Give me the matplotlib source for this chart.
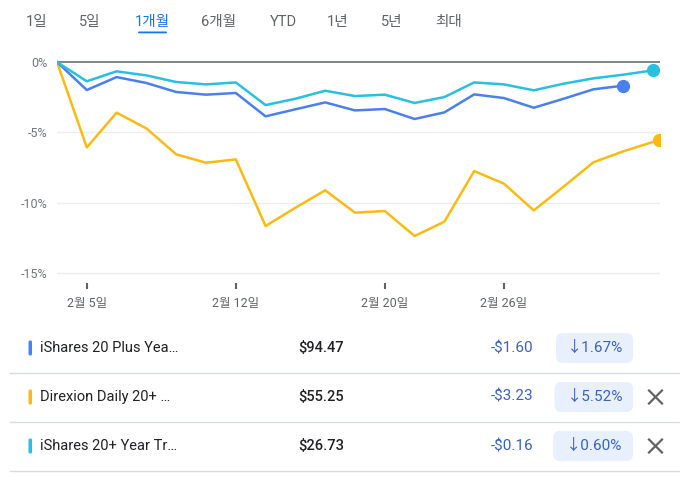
import matplotlib
matplotlib.use('Agg')
import matplotlib.pyplot as plt
from matplotlib.patches import FancyBboxPatch

plt.rcParams['font.family'] = ['Roboto', 'Noto Sans CJK KR', 'DejaVu Sans']

# trading days from Feb 2 to Mar 4 (index positions)
days = list(range(21))
tick_pos = [1, 6, 11, 15]
tick_labels = ['2월 5일', '2월 12일', '2월 20일', '2월 26일']

# percent change since start
tlt_pct = [0, -1.99, -1.07, -1.49, -2.13, -2.32, -2.20, -3.86, -3.36, -2.87,
           -3.44, -3.34, -4.05, -3.58, -2.30, -2.56, -3.25, -2.61, -1.94, -1.68]
tmf_pct = [0, -6.07, -3.60, -4.72, -6.56, -7.16, -6.92, -11.66, -10.36, -9.12,
           -10.71, -10.59, -12.37, -11.35, -7.75, -8.65, -10.55, -8.86, -7.13, -6.35, -5.55]
tmf_days = days[:-1] + [20.2]
tlh_pct = [0, -1.37, -0.66, -0.95, -1.42, -1.59, -1.45, -3.06, -2.61, -2.04,
           -2.42, -2.32, -2.91, -2.49, -1.45, -1.59, -2.01, -1.54, -1.16, -0.90, -0.59]

names = ['iShares 20 Plus Yea…', 'Direxion Daily 20+ …', 'iShares 20+ Year Tr…']
prices = ['$94.47', '$55.25', '$26.73']
changes = ['-$1.60', '-$3.23', '-$0.16']
change_pcts = ['↓1.67%', '↓5.52%', '↓0.60%']
row_colors = ['#4285F4', '#F9BB13', '#24C1E0']
removable = [False, True, True]

tabs = ['1일', '5일', '1개월', '6개월', 'YTD', '1년', '5년', '최대']
tab_x = [37, 90, 152, 219, 283, 338, 392, 449]

W, H = 682, 479
fig = plt.figure(figsize=(W / 100, H / 100), dpi=100)

# background overlay in pixel coords
bg = fig.add_axes([0, 0, 1, 1])
bg.set_xlim(0, W)
bg.set_ylim(H, 0)
bg.axis('off')

for t, x in zip(tabs, tab_x):
    active = t == '1개월'
    bg.text(x, 22, t, ha='center', va='center', fontsize=10.5,
            color='#1a73e8' if active else '#5f6368')
bg.add_patch(FancyBboxPatch((138, 31.5), 29, 1.8, boxstyle='round,pad=0,rounding_size=1',
                            fc='#1a73e8', ec='none'))

row_y = [348, 397, 446]
for i, y in enumerate(row_y):
    bg.add_patch(FancyBboxPatch((28.5, y - 7.5), 3.5, 15, boxstyle='round,pad=0,rounding_size=1.5',
                                fc=row_colors[i], ec='none'))
    bg.text(40, y, names[i], ha='left', va='center', fontsize=10.5, color='#202124')
    bg.text(298, y, prices[i], ha='left', va='center', fontsize=10.5, color='#202124',
            fontweight='medium')
    bg.text(533, y, changes[i], ha='right', va='center', fontsize=11, color='#3a60c0')
    left = 556 - i * 1.5
    bg.add_patch(FancyBboxPatch((left, y - 15), 633 - left, 30,
                                boxstyle='round,pad=0,rounding_size=7', fc='#e8f0fe', ec='none'))
    bg.text((left + 633) / 2 + 1, y, change_pcts[i], ha='center', va='center', fontsize=11,
            color='#3a60c0')
    if removable[i]:
        bg.plot([649, 662], [y - 6.5, y + 6.5], color='#5f6368', lw=1.6)
        bg.plot([649, 662], [y + 6.5, y - 6.5], color='#5f6368', lw=1.6)
    bg.plot([10, 679], [y + 25, y + 25], color='#dadce0', lw=1)

# chart axes
ax = fig.add_axes([57 / W, 1 - 283 / H, (660 - 57) / W, (283 - 55) / H])
ax.patch.set_alpha(0)
ax.set_xlim(0, 20.235)
ax.set_ylim(-15.71, 0.5)
for s in ax.spines.values():
    s.set_visible(False)

for g in [-5, -10, -15]:
    ax.axhline(g, color='#ebedf0', lw=1, zorder=1)
ax.axhline(0, color='#5f6368', lw=1.1, zorder=1)

ax.plot(tmf_days, tmf_pct, color='#F9BB13', lw=1.8, zorder=3)
ax.plot(days[:len(tlt_pct)], tlt_pct, color='#4A80EE', lw=1.8, zorder=4)
ax.plot(days, tlh_pct, color='#28C0DF', lw=1.8, zorder=5)
ax.plot(tmf_days[-1], tmf_pct[-1], 'o', color='#F9BB13', ms=8.5, zorder=6)
ax.plot(days[len(tlt_pct) - 1], tlt_pct[-1], 'o', color='#4A80EE', ms=8.5, zorder=6)
ax.plot(days[-1], tlh_pct[-1], 'o', color='#28C0DF', ms=8.5, zorder=6)

ax.set_yticks([0, -5, -10, -15])
ax.set_yticklabels(['0%', '-5%', '-10%', '-15%'])
ax.tick_params(axis='y', length=0, pad=7, labelsize=9, labelcolor='#70757a')
ax.set_xticks(tick_pos)
ax.set_xticklabels(tick_labels)
ax.tick_params(axis='x', direction='out', length=4, width=1.5, color='#5f6368', pad=6,
               labelsize=9, labelcolor='#5f6368')

fig.savefig('out.png', dpi=100)
